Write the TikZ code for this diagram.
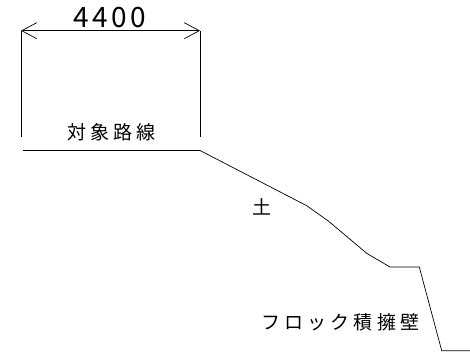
\documentclass[tikz,border=0pt]{standalone}
\usepackage{fontspec}
\setmainfont{Noto Sans CJK JP}
\usetikzlibrary{arrows.meta}
\begin{document}
\begin{tikzpicture}[x=1pt,y=-1pt,
  cad/.style={line width=0.7pt,black},
  lbl/.style={inner sep=0pt,anchor=west,font=\fontsize{19}{20}\selectfont\addfontfeature{LetterSpace=22}},
  dimtxt/.style={inner sep=0pt,anchor=base,font=\fontsize{28}{28}\selectfont\addfontfeature{LetterSpace=12}}]
\useasboundingbox (0,0) rectangle (470,352);
% extension lines
\coordinate (e1t) at (21,30.7); \coordinate (e1b) at (21,137);
\coordinate (e2t) at (200,30.7); \coordinate (e2b) at (200,137);
\draw[cad] (e1t) -- (e1b);
\draw[cad] (e2t) -- (e2b);
% dimension line
\draw[cad,{Straight Barb[length=15pt,width=16pt]}-{Straight Barb[length=15pt,width=16pt]}] (e1t) -- (e2t);
\node[dimtxt] (dim) at (110,28) {4400};
% road surface and slope
\coordinate (r0) at (22.5,150.5);
\coordinate (r1) at (200,150.5);
\coordinate (s1) at (306.7,205.7);
\coordinate (s2) at (328.3,221);
\coordinate (s3) at (366.7,253.3);
\coordinate (s4) at (390,267);
\coordinate (s5) at (419.3,267);
\coordinate (s6) at (441.7,350.7);
\coordinate (s7) at (470,350.7);
\draw[cad] (r0) -- (r1);
\draw[cad] (r1) -- (s1) -- (s2) -- (s3) -- (s4) -- (s5) -- (s6) -- (s7);
% labels
\node[lbl] (road) at (67,132) {対象路線};
\node[lbl] (soil) at (252,206.5) {土};
\node[lbl] (wall) at (261,322.5) {フロック積擁壁};
\end{tikzpicture}
\end{document}
